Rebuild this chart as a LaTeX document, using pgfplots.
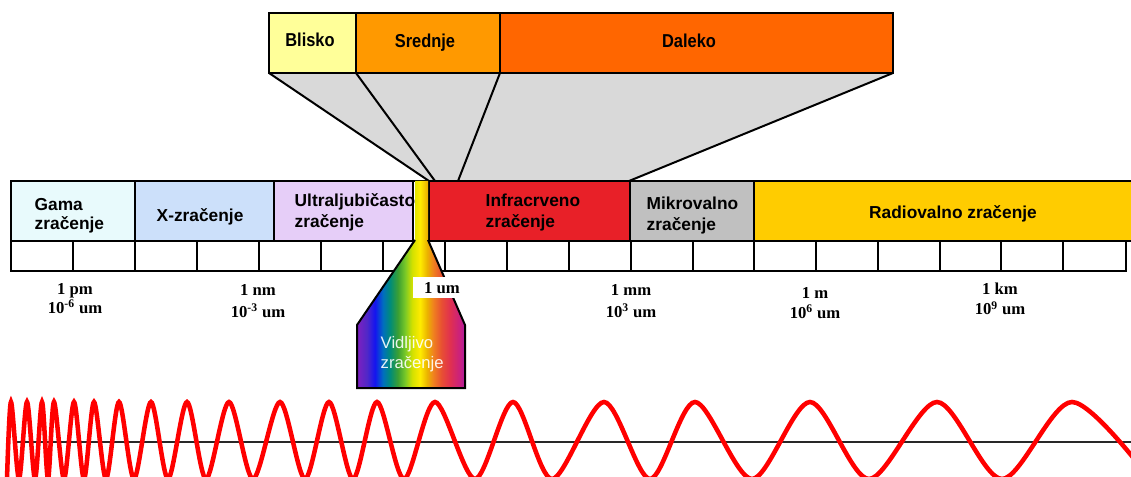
\documentclass[border=0pt]{standalone}
\usepackage{pgfplots}
\pgfplotsset{compat=1.18}
\usepackage{fontspec}
\setmainfont{Liberation Sans}
\newfontfamily\tnr{Liberation Serif}
\newfontfamily\narrow{Liberation Sans}[FakeStretch=0.88]
\definecolor{gama}{RGB}{232,250,252}
\definecolor{xray}{RGB}{204,224,250}
\definecolor{uv}{RGB}{230,206,248}
\definecolor{ir}{RGB}{232,32,40}
\definecolor{micro}{RGB}{192,192,192}
\definecolor{radio}{RGB}{255,204,0}
\definecolor{blisko}{RGB}{255,255,153}
\definecolor{srednje}{RGB}{255,153,0}
\definecolor{daleko}{RGB}{255,102,0}
\definecolor{funnel}{RGB}{217,217,217}
\definecolor{txt}{RGB}{26,26,30}
\definecolor{r1}{RGB}{127,31,191}
\definecolor{r2}{RGB}{80,40,200}
\definecolor{r3}{RGB}{20,20,240}
\definecolor{r4}{RGB}{0,110,190}
\definecolor{r5}{RGB}{0,140,120}
\definecolor{r6}{RGB}{60,160,50}
\definecolor{r7}{RGB}{120,200,40}
\definecolor{r8}{RGB}{210,225,0}
\definecolor{r9}{RGB}{255,235,0}
\definecolor{r10}{RGB}{235,180,0}
\definecolor{r11}{RGB}{240,130,30}
\definecolor{r12}{RGB}{232,80,50}
\definecolor{r13}{RGB}{224,48,80}
\definecolor{r14}{RGB}{200,32,128}
\definecolor{r15}{RGB}{170,30,160}
\pgfdeclarehorizontalshading{rainbow}{100bp}{color(0bp)=(r1); color(25bp)=(r1); color(29.6bp)=(r2); color(33.3bp)=(r3); color(37bp)=(r4); color(40.3bp)=(r5); color(44bp)=(r6); color(47.2bp)=(r7); color(50.5bp)=(r8); color(54.2bp)=(r9); color(57.4bp)=(r10); color(60.2bp)=(r11); color(64bp)=(r12); color(68.1bp)=(r13); color(72.7bp)=(r14); color(75bp)=(r15); color(100bp)=(r15)}
\newcommand\bandfont{\fontsize{13pt}{15pt}\selectfont\bfseries}
\newcommand\topfont{\narrow\fontsize{14pt}{16pt}\selectfont\bfseries}
\newcommand\unitfont{\tnr\bfseries\fontsize{12.5pt}{14pt}\selectfont}
\begin{document}
\begin{tikzpicture}
\begin{axis}[
  scale only axis, width=848.25pt, height=357.75pt,
  xmin=0, xmax=1131, ymin=0, ymax=477, y dir=reverse,
  hide axis, clip=true, clip bounding box=upper bound,
  no markers, unbounded coords=jump,
  every node/.style={text=txt, inner sep=0pt},
]
% invisible frame for the bounding box
\addplot[draw=none] coordinates {(0,0) (1131,477)};
% funnel
\addplot[fill=funnel, draw=none] coordinates {(269,73) (893,73) (629,181) (429,181)} -- cycle;
\addplot[black, line width=1.5pt] coordinates {(269,73) (429,181) (nan,nan) (356,73) (435,181) (nan,nan) (500,73) (458,181) (nan,nan) (893,73) (629,181)};
% top boxes
\addplot[fill=blisko, draw=black, line width=1.5pt] coordinates {(269,13) (356,13) (356,73) (269,73)} -- cycle;
\addplot[fill=srednje, draw=black, line width=1.5pt] coordinates {(356,13) (500,13) (500,73) (356,73)} -- cycle;
\addplot[fill=daleko, draw=black, line width=1.5pt] coordinates {(500,13) (893,13) (893,73) (500,73)} -- cycle;
% band boxes
\addplot[fill=gama, draw=black, line width=1.5pt] coordinates {(11,181) (135,181) (135,241) (11,241)} -- cycle;
\addplot[fill=xray, draw=black, line width=1.5pt] coordinates {(135,181) (274,181) (274,241) (135,241)} -- cycle;
\addplot[fill=uv, draw=black, line width=1.5pt] coordinates {(274,181) (413,181) (413,241) (274,241)} -- cycle;
\addplot[fill=ir, draw=black, line width=1.5pt] coordinates {(429,181) (630,181) (630,241) (429,241)} -- cycle;
\addplot[fill=micro, draw=black, line width=1.5pt] coordinates {(630,181) (754,181) (754,241) (630,241)} -- cycle;
\addplot[fill=radio, draw=black, line width=1.5pt] coordinates {(754,181) (1140,181) (1140,241) (754,241)} -- cycle;
\addplot[black, line width=1.5pt] coordinates {(413,181) (429,181)};
% tick row
\addplot[fill=white, draw=black, line width=1.5pt] coordinates {(11,241) (1126,241) (1126,271) (11,271)} -- cycle;
\addplot[black, line width=1.5pt] coordinates {(73,241) (73,271) (nan,nan) (135,241) (135,271) (nan,nan) (197,241) (197,271) (nan,nan) (259,241) (259,271) (nan,nan) (321,241) (321,271) (nan,nan) (383,241) (383,271) (nan,nan) (445,241) (445,271) (nan,nan) (507,241) (507,271) (nan,nan) (569,241) (569,271) (nan,nan) (631,241) (631,271) (nan,nan) (693,241) (693,271) (nan,nan) (754,241) (754,271) (nan,nan) (816,241) (816,271) (nan,nan) (878,241) (878,271) (nan,nan) (940,241) (940,271) (nan,nan) (1001,241) (1001,271) (nan,nan) (1063,241) (1063,271)};
% visible spectrum
\addplot[draw=none, shading=rainbow] coordinates {(415,181) (428,181) (428,240) (465,325) (465,388) (357,388) (357,325) (415,240)} -- cycle;
\addplot[black, line width=1.5pt] coordinates {(428,240) (465,325) (465,388) (357,388) (357,325) (415,240)};
\addplot[fill=white, draw=none] coordinates {(413,277) (463,277) (463,298) (413,298)} -- cycle;
% wave
\addplot[color={rgb,255:red,40;green,40;blue,40}, line width=2.2pt] coordinates {(16,442) (1131,442)};
\addplot[red, line width=3.4pt, smooth, tension=0.5] coordinates {
(7,479) (11,402) (19,479) (27,402) (35,479) (42,402) (48,479) (54,402) (64,479) (74,402) (84,479) (94,402) (106,479) (119,402) (134,479) (151,402) (168,479) (187,402) (206,479) (229,402) (253,479) (280,402) (305,479) (329,402) (353,479) (377,402) (404,479) (435,402) (475,479) (513,402) (552,479) (604,402) (650,479) (695,402) (752,479) (810,402) (869,479) (937,402) (1002,479) (1072,402) (1150,479)};
% top labels
\node[font=\topfont, anchor=base] at (310,47) {Blisko};
\node[font=\topfont, anchor=base] at (425,48) {Srednje};
\node[font=\topfont, anchor=base] at (689,48) {Daleko};
% band labels
\node[font=\bandfont, anchor=base west] at (30,211) {Gama};
\node[font=\bandfont, anchor=base west] at (30,230) {zračenje};
\node[font=\bandfont, anchor=base west] at (152,222) {X-zračenje};
\node[font=\bandfont, anchor=base west] at (290,207) {Ultraljubičasto};
\node[font=\bandfont, anchor=base west] at (290,228) {zračenje};
\node[font=\bandfont, anchor=base west] at (481,207) {Infracrveno};
\node[font=\bandfont, anchor=base west] at (481,228) {zračenje};
\node[font=\bandfont, anchor=base west] at (642,210) {Mikrovalno};
\node[font=\bandfont, anchor=base west] at (642,231) {zračenje};
\node[font=\bandfont, anchor=base] at (953,219) {Radiovalno zračenje};
% unit labels
\node[font=\unitfont, anchor=base] at (75,294) {1 pm};
\node[font=\unitfont, anchor=base] at (75,313) {10\textsuperscript{-6} um};
\node[font=\unitfont, anchor=base] at (258,296) {1 nm};
\node[font=\unitfont, anchor=base] at (258,317) {10\textsuperscript{-3} um};
\node[font=\unitfont, anchor=base] at (442,293) {1 um};
\node[font=\unitfont, anchor=base] at (631,296) {1 mm};
\node[font=\unitfont, anchor=base] at (631,317) {10\textsuperscript{3} um};
\node[font=\unitfont, anchor=base] at (815,298) {1 m};
\node[font=\unitfont, anchor=base] at (815,318) {10\textsuperscript{6} um};
\node[font=\unitfont, anchor=base] at (1000,295) {1 km};
\node[font=\unitfont, anchor=base] at (1000,315) {10\textsuperscript{9} um};
% visible label
\node[font=\fontsize{12.5pt}{14pt}\selectfont, text=white, text opacity=0.9, anchor=base west] at (376,348) {Vidljivo};
\node[font=\fontsize{12.5pt}{14pt}\selectfont, text=white, text opacity=0.9, anchor=base west] at (376,368) {zračenje};
\end{axis}
\end{tikzpicture}
\end{document}
